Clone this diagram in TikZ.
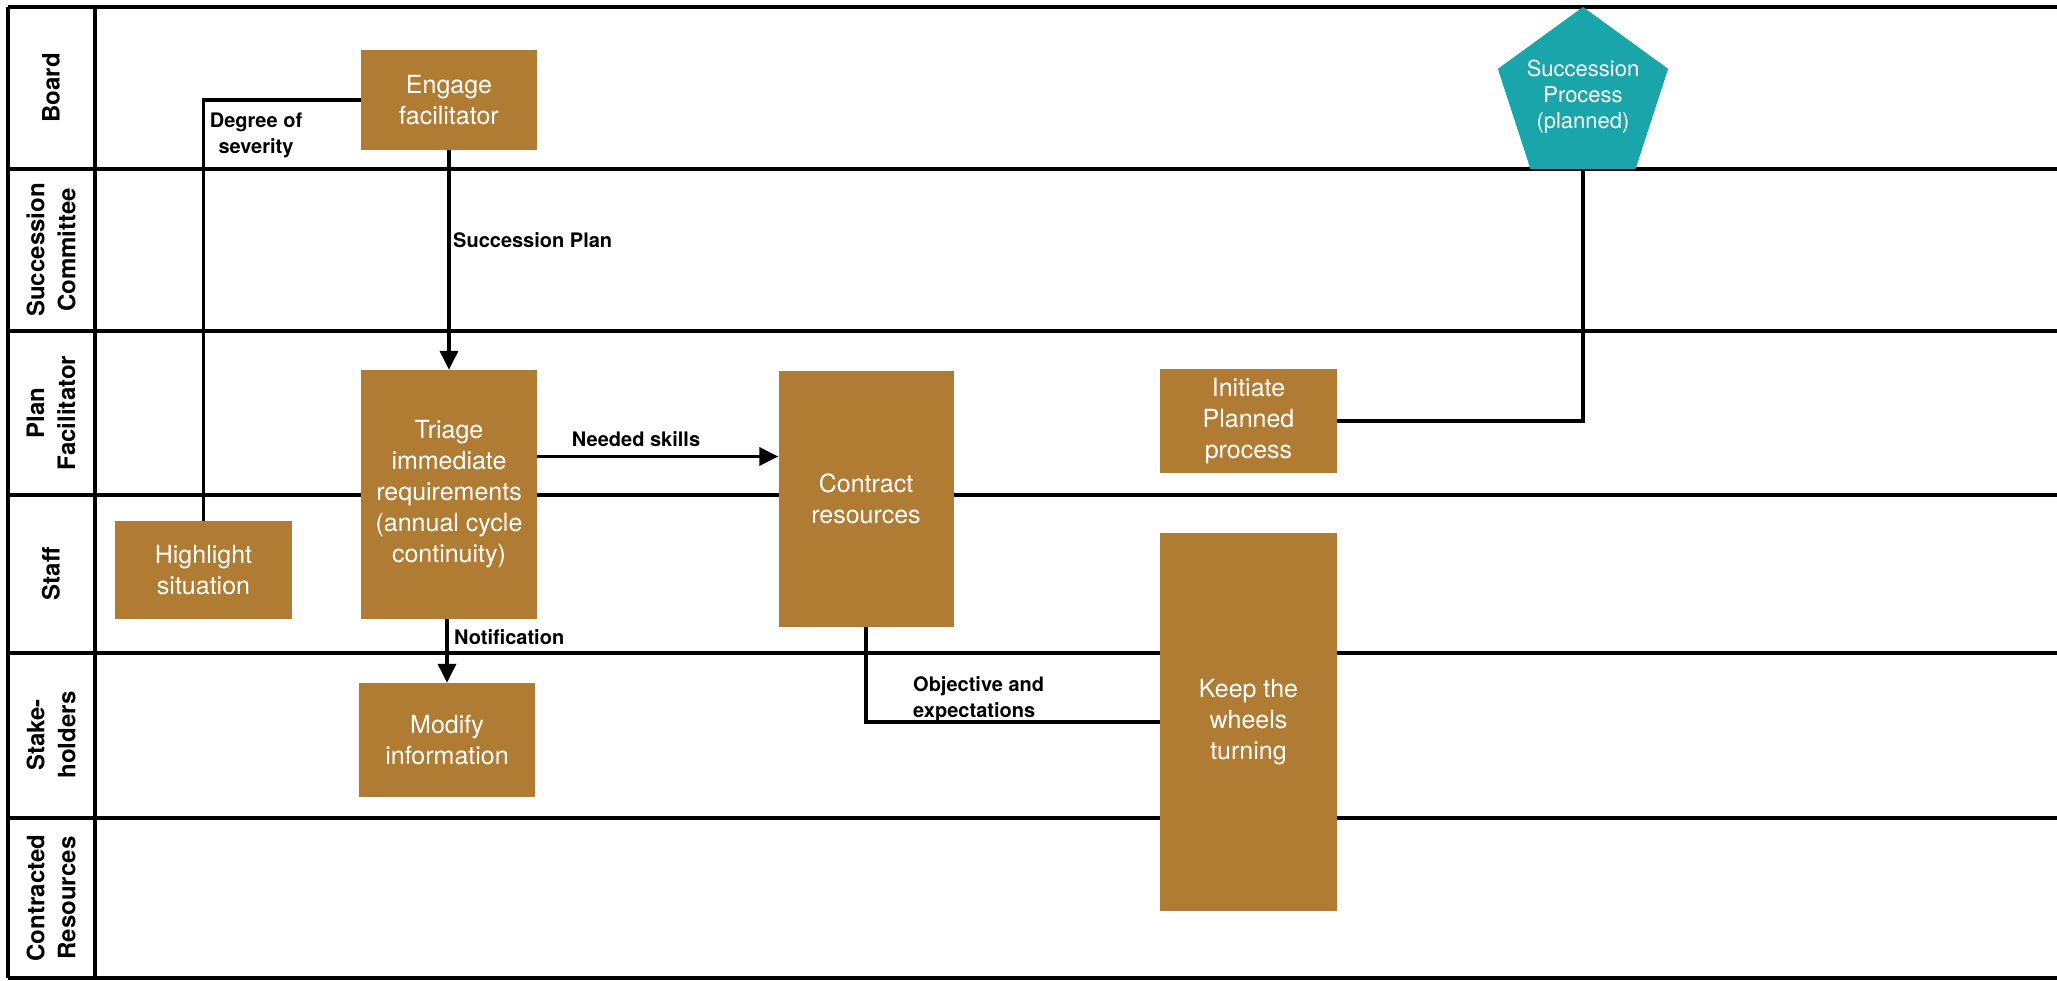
\documentclass[tikz,border=0pt]{standalone}
\usepackage{fontspec}
\setmainfont{TeX Gyre Heros}
\usetikzlibrary{shapes.geometric,arrows.meta}
\definecolor{kraft}{RGB}{176,124,52}
\definecolor{sucteal}{RGB}{26,165,171}

\begin{document}
\begin{tikzpicture}[x=1pt,y=-1pt,
		task/.style={rectangle,fill=kraft,text=white,inner sep=0pt,align=center,font=\fontsize{25}{31}\selectfont},
		lane/.style={rotate=90,align=center,font=\bfseries\fontsize{24}{31}\selectfont},
		tag/.style={inner sep=0pt,font=\bfseries\fontsize{20}{26}\selectfont},
		flow/.style={line width=3.5pt},
		>={Triangle[length=19pt,width=18pt]}]
		
			\useasboundingbox (0,0) rectangle (2057,981);
			
			% lanes
			\draw[flow] (8,7) -- (2057,7);
			\draw[flow] (8,169) -- (2057,169);
			\draw[flow] (8,331) -- (2057,331);
			\draw[flow] (8,495) -- (2057,495);
			\draw[flow] (8,653) -- (2057,653);
			\draw[flow] (8,818) -- (2057,818);
			\draw[flow] (8,978) -- (2057,978);
			\draw[flow] (8,7) -- (8,978);
			\draw[flow] (95,7) -- (95,978);
			
			\node[lane] (l1) at (51,88)  {Board};
			\node[lane] (l2) at (51,250) {Succession\\Committee};
			\node[lane] (l3) at (51,413) {Plan\\Facilitator};
			\node[lane] (l4) at (51,574) {Staff};
			\node[lane] (l5) at (51,735) {Stake-\\holders};
			\node[lane] (l6) at (51,898) {Contracted\\Resources};
			
			% steps
			\node[task,minimum width=176,minimum height=100] (engage) at (449,100) {Engage\\facilitator};
			\node[task,minimum width=176,minimum height=249] (triage) at (449,494.5) {Triage\\immediate\\requirements\\(annual cycle\\continuity)};
			\node[task,minimum width=177,minimum height=98] (highlight) at (203.5,570) {Highlight\\situation};
			\node[task,minimum width=176,minimum height=114] (modify) at (447,740) {Modify\\information};
			\node[task,minimum width=175,minimum height=256] (contract) at (866,499) {Contract\\resources};
			\node[task,minimum width=177,minimum height=104] (initiate) at (1248.5,421) {Initiate\\Planned\\process};
			\node[task,minimum width=177,minimum height=378] (wheels) at (1248.5,722) {Keep the\\wheels\\turning};
			\node[regular polygon,regular polygon sides=5,minimum size=179,inner sep=-8pt,fill=sucteal,text=white,align=center,font=\fontsize{22}{26}\selectfont] (pent) at (1583,96.5) {Succession\\Process\\(planned)};
			
			\draw[flow] (engage.west) -| (highlight.north);
			\draw[flow,->] (engage.south) -- (triage.north);
			\draw[flow,->] ([yshift=38pt]triage.east) coordinate (ns) -- (ns -| contract.west);
			\draw[flow,->] (triage.south -| modify.north) -- (modify.north);
			\draw[flow] (contract.south) |- (wheels.west);
			\draw[flow] (initiate.east) -| (pent.south);
			
			\node[tag,align=center] (sev) at (256,135) {Degree of\\severity};
			\node[tag,anchor=west] (plan) at (453,240) {Succession Plan};
			\node[tag] (skills) at (636,439) {Needed skills};
			\node[tag,anchor=west] (notif) at (454,637) {Notification};
			\node[tag,anchor=west,align=left] (obj) at (913,699) {Objective and\\expectations};
			
		\end{tikzpicture}
\end{document}
